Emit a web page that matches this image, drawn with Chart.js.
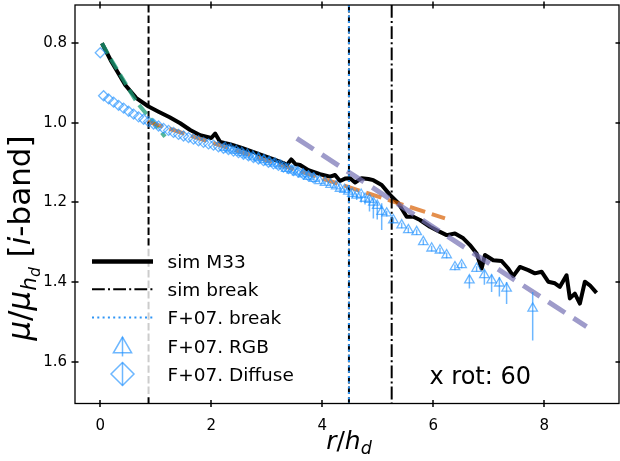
<!DOCTYPE html>
<html>
<head>
<meta charset="utf-8">
<script src="https://cdn.jsdelivr.net/npm/chart.js@4.4.1/dist/chart.umd.min.js"></script>
<style>
  html, body { margin: 0; padding: 0; background: #fff; }
  canvas { display: block; }
</style>
</head>
<body>
<canvas id="chart" width="620" height="461"></canvas>
<script>
// axis ticks
const xTicks = [0, 2, 4, 6, 8];
const xTickLabels = ['0', '2', '4', '6', '8'];
const yTicks = [0.8, 1.0, 1.2, 1.4, 1.6];
const yTickLabels = ['0.8', '1.0', '1.2', '1.4', '1.6'];
const xMin = -0.455, xMax = 9.345;
const yMin = 0.704, yMax = 1.705;

// simulated profile (sim M33)
const simR = [0.03, 0.20, 0.45, 0.65, 0.87, 1.05, 1.25, 1.44, 1.62, 1.80,
  2.00, 2.07, 2.16, 2.35, 2.55, 2.75, 2.95, 3.15, 3.30, 3.36,
  3.44, 3.52, 3.60, 3.75, 3.96, 4.14, 4.23, 4.32, 4.41, 4.50,
  4.59, 4.71, 4.83, 4.92, 5.07, 5.22, 5.37, 5.52, 5.64, 5.76,
  5.94, 6.12, 6.24, 6.39, 6.54, 6.66, 6.78, 6.87, 6.93, 7.08,
  7.23, 7.35, 7.44, 7.56, 7.71, 7.83, 7.95, 8.07, 8.19, 8.28,
  8.40, 8.46, 8.55, 8.64, 8.73, 8.82, 8.94];
const simMu = [0.800, 0.846, 0.905, 0.938, 0.959, 0.972, 0.986, 1.001, 1.018, 1.031,
  1.038, 1.027, 1.048, 1.054, 1.063, 1.073, 1.083, 1.093, 1.101, 1.106,
  1.092, 1.104, 1.106, 1.119, 1.129, 1.135, 1.131, 1.146, 1.140, 1.139,
  1.150, 1.139, 1.141, 1.144, 1.156, 1.181, 1.202, 1.236, 1.236, 1.244,
  1.261, 1.274, 1.282, 1.278, 1.290, 1.307, 1.328, 1.366, 1.332, 1.345,
  1.347, 1.366, 1.385, 1.362, 1.370, 1.378, 1.374, 1.399, 1.403, 1.412,
  1.383, 1.441, 1.429, 1.454, 1.399, 1.408, 1.427];

// fits
const fitInR = [0.03, 0.20, 0.45, 0.656, 0.926, 1.166];
const fitInMu = [0.800, 0.842, 0.900, 0.947, 0.993, 1.035];
const fitMidR = [0.85, 6.21];
const fitMidMu = [0.997, 1.240];
const fitOutR = [3.54, 8.76];
const fitOutMu = [1.039, 1.512];

// F+07 RGB profile
const rgbR = [2.25, 2.35, 2.45, 2.55, 2.65, 2.75, 2.85, 2.95, 3.05, 3.15,
  3.25, 3.35, 3.45, 3.55, 3.65, 3.75, 3.85, 3.95, 4.05, 4.15,
  4.25, 4.32, 4.40, 4.47, 4.54, 4.62, 4.70, 4.77, 4.85, 4.92,
  4.99, 5.07, 5.16, 5.28, 5.43, 5.55, 5.70, 5.82, 5.97, 6.12,
  6.24, 6.39, 6.51, 6.65, 6.78, 6.92, 7.05, 7.19, 7.32, 7.79];
const rgbMu = [1.062, 1.066, 1.070, 1.075, 1.079, 1.084, 1.088, 1.093, 1.098, 1.102,
  1.107, 1.115, 1.119, 1.124, 1.129, 1.135, 1.140, 1.146, 1.150, 1.155,
  1.159, 1.165, 1.168, 1.172, 1.178, 1.182, 1.180, 1.190, 1.193, 1.200,
  1.208, 1.223, 1.227, 1.244, 1.257, 1.269, 1.274, 1.299, 1.315, 1.320,
  1.332, 1.362, 1.357, 1.395, 1.366, 1.382, 1.395, 1.403, 1.416, 1.466];
const rgbErrLo = [0.004, 0.004, 0.004, 0.004, 0.004, 0.004, 0.004, 0.004, 0.004, 0.004,
  0.004, 0.004, 0.004, 0.004, 0.004, 0.004, 0.004, 0.004, 0.004, 0.004,
  0.004, 0.004, 0.004, 0.004, 0.005, 0.005, 0.006, 0.006, 0.008, 0.010,
  0.010, 0.021, 0.006, 0.006, 0.006, 0.006, 0.006, 0.006, 0.006, 0.006,
  0.006, 0.006, 0.006, 0.012, 0.006, 0.012, 0.014, 0.015, 0.016, 0.041];
const rgbErrHi = [0.005, 0.005, 0.005, 0.005, 0.005, 0.005, 0.005, 0.005, 0.005, 0.005,
  0.005, 0.005, 0.005, 0.005, 0.005, 0.005, 0.005, 0.005, 0.006, 0.006,
  0.006, 0.006, 0.007, 0.008, 0.010, 0.012, 0.020, 0.015, 0.030, 0.040,
  0.035, 0.046, 0.008, 0.008, 0.008, 0.008, 0.008, 0.008, 0.008, 0.008,
  0.008, 0.008, 0.008, 0.021, 0.008, 0.025, 0.030, 0.033, 0.039, 0.081];

// F+07 diffuse profile
const difR = [0.00, 0.06, 0.15, 0.24, 0.33, 0.42, 0.51, 0.60, 0.69, 0.78,
  0.87, 0.96, 1.05, 1.14, 1.23, 1.32, 1.41, 1.50, 1.59, 1.68,
  1.77, 1.86, 1.95, 2.04, 2.13, 2.22, 2.31, 2.40, 2.49, 2.58,
  2.67, 2.76, 2.85, 2.94, 3.03, 3.12, 3.21, 3.30, 3.39, 3.48,
  3.57, 3.66, 3.75, 3.84];
const difMu = [0.824, 0.932, 0.940, 0.948, 0.956, 0.963, 0.971, 0.978, 0.985, 0.991,
  0.997, 1.003, 1.008, 1.014, 1.019, 1.024, 1.029, 1.033, 1.037, 1.041,
  1.045, 1.049, 1.053, 1.056, 1.060, 1.064, 1.067, 1.071, 1.075, 1.079,
  1.083, 1.087, 1.091, 1.095, 1.099, 1.103, 1.107, 1.111, 1.115, 1.120,
  1.124, 1.129, 1.133, 1.138];

// breaks
const innerBreak = 0.87;
const obsBreak = 4.48;
const simBreak = 5.25;

const legendLabels = ['sim M33', 'sim break', 'F+07. break', 'F+07. RGB', 'F+07. Diffuse'];
const annotation = 'x rot: 60';

const BLUE = 'rgba(30,144,255,0.65)';
const FONT = '"DejaVu Sans", sans-serif';

const pts = (xs, ys) => xs.map((x, i) => ({ x, y: ys[i] }));
const vline = v => [{ x: v, y: yMin }, { x: v, y: yMax }];
const errSegs = rgbR.flatMap((x, i) => [
  { x, y: rgbMu[i] - rgbErrLo[i] },
  { x, y: rgbMu[i] + rgbErrHi[i] },
  { x, y: null }
]);

function seg(ctx, x0, y0, x1, y1) {
  ctx.beginPath();
  ctx.moveTo(x0, y0);
  ctx.lineTo(x1, y1);
  ctx.stroke();
}

// mathtext-like label: pieces drawn one after another
function drawPieces(ctx, pieces, cx, baseY) {
  const widths = pieces.map(p => {
    ctx.font = `${p.it ? 'italic ' : ''}${p.s}px ${FONT}`;
    return ctx.measureText(p.t).width;
  });
  let x = cx - widths.reduce((a, b) => a + b, 0) / 2;
  pieces.forEach((p, i) => {
    ctx.font = `${p.it ? 'italic ' : ''}${p.s}px ${FONT}`;
    ctx.fillText(p.t, x, baseY + (p.dy || 0));
    x += widths[i];
  });
}

const overlay = {
  id: 'overlay',
  afterDatasetsDraw(chart) {
    const ctx = chart.ctx;
    ctx.save();
    ctx.textBaseline = 'alphabetic';
    ctx.textAlign = 'left';

    // legend
    ctx.fillStyle = 'rgba(255,255,255,0.8)';
    ctx.fillRect(86, 248, 220, 147);
    const x0 = 92, x1 = 153, mid = 122.5;
    const rows = [261.5, 289.3, 317.5, 346.5, 374];
    ctx.lineCap = 'butt';
    ctx.strokeStyle = '#000';
    ctx.lineWidth = 4.5;
    ctx.setLineDash([]);
    seg(ctx, x0, rows[0], x1, rows[0]);
    ctx.lineWidth = 2;
    ctx.setLineDash([12.8, 3.2, 2, 3.2]);
    seg(ctx, x0, rows[1], x1, rows[1]);
    ctx.strokeStyle = '#2f95f5';
    ctx.setLineDash([2, 3.3]);
    seg(ctx, x0, rows[2], x1, rows[2]);
    ctx.setLineDash([]);
    ctx.strokeStyle = BLUE;
    ctx.lineWidth = 1.5;
    // triangle with error bar
    const tr = 10.5, ty = rows[3] + 1;
    ctx.beginPath();
    ctx.moveTo(mid, ty - tr);
    ctx.lineTo(mid + tr * 0.866, ty + tr / 2);
    ctx.lineTo(mid - tr * 0.866, ty + tr / 2);
    ctx.closePath();
    ctx.stroke();
    seg(ctx, mid, ty - tr, mid, ty + tr * 0.85);
    // diamond with error bar
    const dr = 11.5, dy = rows[4];
    ctx.beginPath();
    ctx.moveTo(mid, dy - dr);
    ctx.lineTo(mid + dr, dy);
    ctx.lineTo(mid, dy + dr);
    ctx.lineTo(mid - dr, dy);
    ctx.closePath();
    ctx.stroke();
    seg(ctx, mid, dy - dr, mid, dy + dr);

    ctx.fillStyle = '#000';
    ctx.font = `18.5px ${FONT}`;
    legendLabels.forEach((t, i) => ctx.fillText(t, 167.5, rows[i] + 6.7));

    // annotation
    ctx.font = `24px ${FONT}`;
    ctx.fillText(annotation, 429.5, 384.3);
    ctx.restore();
  },
  afterDraw(chart) {
    const { ctx, chartArea: a, scales: { x, y } } = chart;
    ctx.save();
    ctx.strokeStyle = '#000';
    ctx.setLineDash([]);
    ctx.lineWidth = 1.3;
    ctx.strokeRect(a.left, a.top, a.right - a.left, a.bottom - a.top);
    ctx.lineWidth = 1.5;
    ctx.beginPath();
    xTicks.forEach(v => {
      const px = Math.round(x.getPixelForValue(v));
      ctx.moveTo(px, a.bottom - 3.5); ctx.lineTo(px, a.bottom + 3.5);
      ctx.moveTo(px, a.top - 3.5); ctx.lineTo(px, a.top + 3.5);
    });
    yTicks.forEach(v => {
      const py = Math.round(y.getPixelForValue(v));
      ctx.moveTo(a.left - 3.5, py); ctx.lineTo(a.left + 3.5, py);
      ctx.moveTo(a.right - 3.5, py); ctx.lineTo(a.right + 3.5, py);
    });
    ctx.stroke();

    // axis titles
    ctx.fillStyle = '#000';
    ctx.textBaseline = 'alphabetic';
    ctx.textAlign = 'left';
    drawPieces(ctx, [
      { t: 'r', it: true, s: 25 },
      { t: '/', s: 25 },
      { t: 'h', it: true, s: 25 },
      { t: 'd', it: true, s: 17.5, dy: 5 }
    ], 349, 449);

    ctx.translate(30, 238);
    ctx.rotate(-Math.PI / 2);
    drawPieces(ctx, [
      { t: 'μ', it: true, s: 31 },
      { t: '/', s: 31 },
      { t: 'μ', it: true, s: 31 },
      { t: 'h', it: true, s: 21.5, dy: 6 },
      { t: 'd', it: true, s: 15.5, dy: 10 },
      { t: ' [', s: 31 },
      { t: 'i', it: true, s: 31 },
      { t: '-band]', s: 31 }
    ], 0, 0);
    ctx.restore();
  }
};

const tickFont = { family: 'DejaVu Sans', size: 15 };

new Chart(document.getElementById('chart'), {
  type: 'line',
  data: {
    datasets: [
      { label: 'F+07. Diffuse', data: pts(difR, difMu), showLine: false, order: 1,
        pointStyle: 'rectRot', pointRadius: 5, borderColor: BLUE, pointBorderWidth: 1.3,
        backgroundColor: 'rgba(0,0,0,0)' },
      { label: 'F+07. RGB', data: pts(rgbR, rgbMu), showLine: false, order: 2,
        pointStyle: 'triangle', pointRadius: 5.5, borderColor: BLUE, pointBorderWidth: 1.3,
        backgroundColor: 'rgba(0,0,0,0)' },
      { label: 'RGB err', data: errSegs, order: 3, borderColor: BLUE, borderWidth: 1.5,
        pointRadius: 0, spanGaps: false },
      { label: 'F+07. break', data: vline(obsBreak), order: 4, borderColor: '#2f95f5',
        borderWidth: 2, borderDash: [2, 3.3], pointRadius: 0 },
      { label: 'obs break', data: vline(obsBreak), order: 4.5, borderColor: '#000',
        borderWidth: 2, borderDash: [7.4, 3.2], pointRadius: 0 },
      { label: 'inner break', data: vline(innerBreak), order: 4.5, borderColor: '#000',
        borderWidth: 2, borderDash: [7.4, 3.2], pointRadius: 0 },
      { label: 'sim break', data: vline(simBreak), order: 4.5, borderColor: '#000',
        borderWidth: 2, borderDash: [12.8, 3.2, 2, 3.2], pointRadius: 0 },
      { label: 'outer fit', data: pts(fitOutR, fitOutMu), order: 5,
        borderColor: 'rgba(117,112,179,0.7)', borderWidth: 5, borderDash: [20, 10], pointRadius: 0 },
      { label: 'mid fit', data: pts(fitMidR, fitMidMu), order: 6,
        borderColor: 'rgba(217,95,2,0.7)', borderWidth: 4, borderDash: [16, 7], pointRadius: 0 },
      { label: 'inner fit', data: pts(fitInR, fitInMu), order: 7,
        borderColor: 'rgba(27,158,119,0.75)', borderWidth: 4, borderDash: [12, 6], pointRadius: 0,
        cubicInterpolationMode: 'monotone' },
      { label: 'sim M33', data: pts(simR, simMu), order: 8, borderColor: '#000',
        borderWidth: 4, borderJoinStyle: 'round', pointRadius: 0 }
    ]
  },
  options: {
    responsive: false,
    animation: false,
    events: [],
    layout: { autoPadding: false, padding: { top: 5, right: 1, left: 0, bottom: 0 } },
    elements: { line: { tension: 0, fill: false } },
    plugins: { legend: { display: false }, tooltip: { enabled: false } },
    scales: {
      x: {
        type: 'linear', min: xMin, max: xMax,
        grid: { display: false, drawTicks: false },
        border: { display: false },
        afterBuildTicks: s => { s.ticks = xTicks.map(v => ({ value: v })); },
        afterFit: s => { s.height = 57.5; s.paddingLeft = 0; s.paddingRight = 0; },
        ticks: { padding: 14, color: '#000', font: tickFont, maxRotation: 0, autoSkip: false,
          callback: (v, i) => xTickLabels[i] }
      },
      y: {
        type: 'linear', min: yMin, max: yMax, reverse: true,
        grid: { display: false, drawTicks: false },
        border: { display: false },
        afterBuildTicks: s => { s.ticks = yTicks.map(v => ({ value: v })); },
        afterFit: s => { s.width = 75; s.paddingTop = 0; s.paddingBottom = 0; },
        ticks: { padding: 8, color: '#000', font: tickFont, autoSkip: false,
          callback: (v, i) => yTickLabels[i] }
      }
    }
  },
  plugins: [overlay]
});
</script>
</body>
</html>
